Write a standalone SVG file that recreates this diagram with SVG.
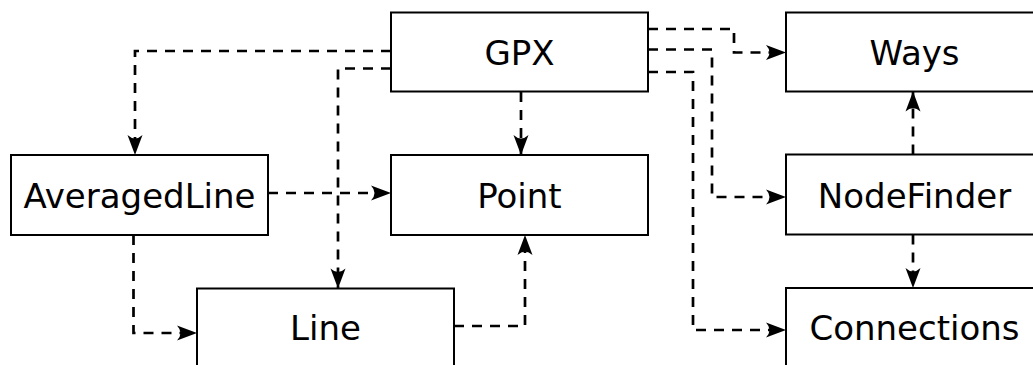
<svg xmlns="http://www.w3.org/2000/svg" width="1033" height="365" viewBox="0 0 1033 365">
<style>
.box{fill:#fff;stroke:#000;stroke-width:2}
.lbl{font-family:"DejaVu Sans",sans-serif;font-size:34px;text-anchor:middle;fill:#000}
.edge{fill:none;stroke:#000;stroke-width:2.7;stroke-dasharray:10 8;marker-end:url(#arr)}
</style>
<defs>
<marker id="arr" markerUnits="userSpaceOnUse" markerWidth="24" markerHeight="20" viewBox="-21 -10 23 20" refX="0" refY="0" orient="auto">
<path d="M0,0 L-20,-7.5 Q-13,0 -20,7.5 Z" fill="#000"/>
</marker>
</defs>
<rect width="1033" height="365" fill="#fff"/>
<g id="connectors">
<path class="edge" d="M391,51 H135 V155"/>
<path class="edge" d="M391,68.5 H338 V288.5"/>
<path class="edge" d="M521,92 V155"/>
<path class="edge" d="M648,29 H734 V52.5 H786"/>
<path class="edge" d="M648,49.5 H712 V197 H786"/>
<path class="edge" d="M648,72 H693 V330 H786"/>
<path class="edge" d="M913,154.5 V91.5"/>
<path class="edge" d="M913,234.5 V288"/>
<path class="edge" d="M268,193 H391"/>
<path class="edge" d="M133.5,235 V333 H197"/>
<path class="edge" d="M454,326 H525 V235"/>
</g>
<g id="GPX"><rect class="box" x="391" y="12.5" width="257" height="79"/><text class="lbl" x="519.5" y="65">GPX</text></g>
<g id="AveragedLine"><rect class="box" x="11" y="155" width="257" height="80"/><text class="lbl" x="139.5" y="208">AveragedLine</text></g>
<g id="Point"><rect class="box" x="391" y="155" width="257" height="80"/><text class="lbl" x="519.5" y="207.5">Point</text></g>
<g id="Line"><rect class="box" x="197" y="288.5" width="257" height="80"/><text class="lbl" x="325.5" y="340">Line</text></g>
<g id="Ways"><rect class="box" x="786" y="12.5" width="257" height="79"/><text class="lbl" x="914.5" y="65">Ways</text></g>
<g id="NodeFinder"><rect class="box" x="786" y="154.5" width="257" height="80"/><text class="lbl" x="914.5" y="208">NodeFinder</text></g>
<g id="Connections"><rect class="box" x="786" y="288" width="257" height="80"/><text class="lbl" x="914.5" y="340">Connections</text></g>
</svg>
